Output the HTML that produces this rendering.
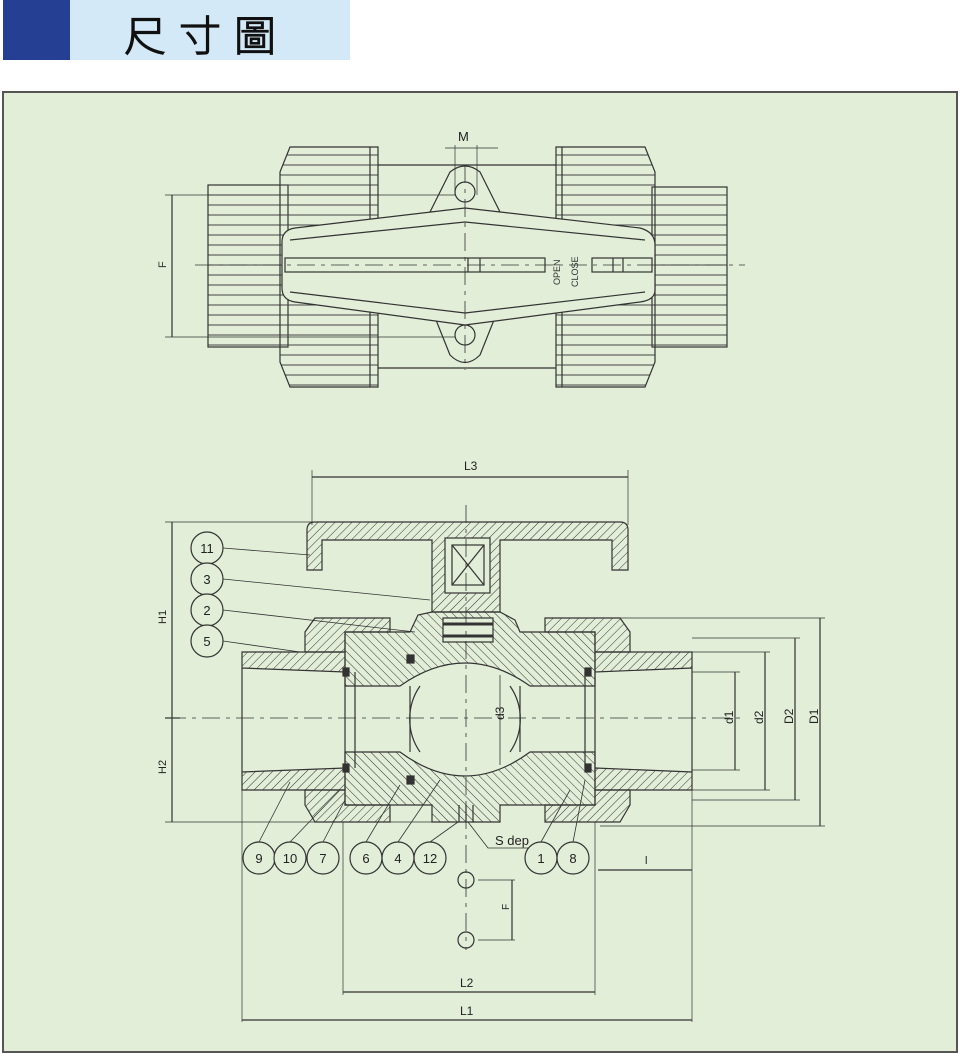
<!DOCTYPE html>
<html><head><meta charset="utf-8"><style>
body{margin:0;width:960px;height:1052px;background:#fff;position:relative;overflow:hidden;font-family:"Liberation Sans",sans-serif}
#b1{position:absolute;left:3px;top:0;width:67px;height:60px;background:#253f93}
#b2{position:absolute;left:70px;top:0;width:280px;height:60px;background:#d3e9f7}
#t{position:absolute;left:124px;top:3px;font-size:42px;letter-spacing:13px;color:#111;-webkit-text-stroke:1.2px #111;font-family:"Liberation Sans","Noto Sans CJK TC",sans-serif;font-weight:300}
#p{position:absolute;left:2px;top:91px;width:952px;height:958px;background:#e2eed8;border:2px solid #555}
svg{position:absolute;left:0;top:0}
</style></head><body>
<div id="b1"></div><div id="b2"></div><div id="t">尺寸圖</div>
<div id="p"></div>
<svg width="960" height="1052" viewBox="0 0 960 1052" font-family="Liberation Sans,sans-serif" fill="none" stroke="#333" stroke-width="1.2">
<defs>
<pattern id="h" width="6" height="6" patternUnits="userSpaceOnUse" patternTransform="rotate(45)"><line x1="0" y1="0" x2="0" y2="6" stroke="#333" stroke-width="1"/></pattern>
<pattern id="h2" width="6" height="6" patternUnits="userSpaceOnUse" patternTransform="rotate(-45)"><line x1="0" y1="0" x2="0" y2="6" stroke="#333" stroke-width="1"/></pattern>
<pattern id="s" width="10" height="10" patternUnits="userSpaceOnUse"><line x1="0" y1="5" x2="10" y2="5" stroke="#444" stroke-width="1"/></pattern>
</defs>
<!-- TOP VIEW -->
<rect x="208" y="185" width="80" height="162" fill="url(#s)"/>
<rect x="652" y="187" width="75" height="160" fill="url(#s)"/>
<polygon points="290,147 378,147 378,387 290,387 280,362 280,172" fill="url(#s)"/>
<polygon points="556,147 645,147 655,172 655,362 645,387 556,387" fill="url(#s)"/>
<line x1="370" y1="147" x2="370" y2="387"/><line x1="562" y1="147" x2="562" y2="387"/>
<line x1="378" y1="165" x2="556" y2="165"/><line x1="378" y1="368" x2="556" y2="368"/>
<path d="M430,212 L450,172 Q465,160 480,172 L500,212 Z" fill="#e2eed8"/>
<path d="M430,305 L450,355 Q465,370 480,355 L500,305 Z" fill="#e2eed8"/>
<circle cx="465" cy="192" r="10"/><circle cx="465" cy="335" r="10"/>
<path d="M295,228 L465,208 L640,228 Q655,232 655,245 L655,290 Q655,300 640,302 L465,325 L295,302 Q282,300 282,288 L282,242 Q282,230 295,228 Z" fill="#e2eed8"/>
<path d="M290,240 L465,222 L645,240 M290,292 L465,313 L645,292"/>
<rect x="285" y="258" width="260" height="14"/><line x1="468" y1="258" x2="468" y2="272"/><line x1="480" y1="258" x2="480" y2="272"/>
<rect x="592" y="258" width="60" height="14"/><line x1="613" y1="258" x2="613" y2="272"/><line x1="623" y1="258" x2="623" y2="272"/>
<line x1="195" y1="265" x2="745" y2="265" stroke-dasharray="18,6,4,6" stroke-width="0.8"/>
<line x1="465" y1="165" x2="465" y2="370" stroke-dasharray="18,6,4,6" stroke-width="0.8"/>
<text x="560" y="285" font-size="9" fill="#333" stroke="none" transform="rotate(-90 560 285)">OPEN</text>
<text x="578" y="287" font-size="9" fill="#333" stroke="none" transform="rotate(-90 578 287)">CLOSE</text>
<line x1="172" y1="195" x2="172" y2="337"/><line x1="165" y1="195" x2="455" y2="195" stroke-width="0.7"/><line x1="165" y1="337" x2="455" y2="337" stroke-width="0.7"/>
<text x="162" y="272" font-size="11" fill="#333" stroke="none" transform="rotate(-90 162 268)">F</text>
<line x1="455" y1="145" x2="455" y2="195" stroke-width="0.7"/><line x1="477" y1="145" x2="477" y2="195" stroke-width="0.7"/><line x1="445" y1="148" x2="498" y2="148" stroke-width="0.7"/>
<text x="458" y="141" font-size="13" fill="#222" stroke="none">M</text>
<!-- BOTTOM VIEW -->
<line x1="312" y1="477" x2="628" y2="477"/><line x1="312" y1="470" x2="312" y2="525" stroke-width="0.7"/><line x1="628" y1="470" x2="628" y2="525" stroke-width="0.7"/>
<text x="464" y="470" font-size="12" fill="#222" stroke="none">L3</text>
<!-- handle -->
<path d="M307,530 Q307,522 315,522 L620,522 Q628,522 628,530 L628,570 L612,570 L612,540 L500,540 L500,612 L432,612 L432,540 L322,540 L322,570 L307,570 Z" fill="url(#h)"/>
<rect x="445" y="538" width="45" height="55" fill="#e2eed8"/><rect x="452" y="545" width="32" height="40"/><path d="M452,545 L484,585 M484,545 L452,585"/>
<!-- stem housing & body -->
<path d="M345,632 L410,632 L418,615 L432,612 L500,612 L515,620 L520,632 L595,632 L595,686 L530,686 Q465,640 400,686 L345,686 Z" fill="url(#h2)"/>
<rect x="443" y="618" width="50" height="24" fill="#e2eed8"/><line x1="443" y1="624" x2="493" y2="624" stroke-width="3"/><line x1="443" y1="636" x2="493" y2="636" stroke-width="3"/>
<path d="M345,752 L400,752 Q465,800 530,752 L595,752 L595,805 L500,805 L500,822 L432,822 L432,805 L345,805 Z" fill="url(#h2)"/>
<path d="M459,805 L459,822 M466,805 L466,822 M473,805 L473,822"/>
<!-- union nuts -->
<path d="M315,618 L390,618 L390,632 L345,632 L345,652 L305,652 L305,632 Z" fill="url(#h)"/>
<path d="M305,790 L345,790 L345,805 L390,805 L390,822 L315,822 L305,805 Z" fill="url(#h)"/>
<path d="M545,618 L620,618 L630,632 L630,652 L595,652 L595,632 L545,632 Z" fill="url(#h)"/>
<path d="M595,790 L630,790 L630,805 L620,822 L545,822 L545,805 L595,805 Z" fill="url(#h)"/>
<!-- pipes -->
<path d="M242,652 L345,652 L345,672 L242,668 Z" fill="url(#h)"/><path d="M242,772 L345,768 L345,790 L242,790 Z" fill="url(#h)"/>
<path d="M595,652 L692,652 L692,668 L595,672 Z" fill="url(#h)"/><path d="M595,768 L692,772 L692,790 L595,790 Z" fill="url(#h)"/>
<line x1="242" y1="668" x2="242" y2="772"/><line x1="692" y1="668" x2="692" y2="772"/>
<line x1="345" y1="672" x2="345" y2="768"/><line x1="355" y1="672" x2="355" y2="768"/><line x1="410" y1="686" x2="410" y2="752"/><line x1="520" y1="686" x2="520" y2="752"/><line x1="585" y1="672" x2="585" y2="768"/><line x1="595" y1="672" x2="595" y2="768"/>
<path d="M420,686 A58,58 0 0 0 420,752 M510,686 A58,58 0 0 1 510,752"/>
<g fill="#333"><rect x="343" y="668" width="6" height="8"/><rect x="343" y="764" width="6" height="8"/><rect x="585" y="668" width="6" height="8"/><rect x="585" y="764" width="6" height="8"/><rect x="407" y="655" width="7" height="8"/><rect x="407" y="776" width="7" height="8"/></g>
<line x1="168" y1="718" x2="745" y2="718" stroke-dasharray="18,6,4,6" stroke-width="0.8"/>
<line x1="466" y1="505" x2="466" y2="950" stroke-dasharray="18,6,4,6" stroke-width="0.8"/>
<line x1="500" y1="675" x2="500" y2="765" stroke-width="0.8"/>
<text x="498" y="726" font-size="12" fill="#222" stroke="none" transform="rotate(-90 498 720)">d3</text>
<!-- H dims -->
<line x1="172" y1="522" x2="172" y2="822"/><line x1="165" y1="522" x2="430" y2="522" stroke-width="0.7"/><line x1="165" y1="822" x2="440" y2="822" stroke-width="0.7"/><line x1="165" y1="718" x2="180" y2="718"/>
<text x="162" y="628" font-size="11" fill="#222" stroke="none" transform="rotate(-90 162 624)">H1</text>
<text x="162" y="778" font-size="11" fill="#222" stroke="none" transform="rotate(-90 162 774)">H2</text>
<!-- right dims -->
<g stroke-width="0.7"><line x1="600" y1="618" x2="825" y2="618"/><line x1="600" y1="826" x2="825" y2="826"/><line x1="692" y1="638" x2="800" y2="638"/><line x1="692" y1="800" x2="800" y2="800"/><line x1="692" y1="652" x2="770" y2="652"/><line x1="692" y1="790" x2="770" y2="790"/><line x1="692" y1="672" x2="740" y2="672"/><line x1="692" y1="770" x2="740" y2="770"/></g>
<line x1="735" y1="672" x2="735" y2="770"/><line x1="765" y1="652" x2="765" y2="790"/><line x1="795" y1="638" x2="795" y2="800"/><line x1="820" y1="618" x2="820" y2="826"/>
<g font-size="12" fill="#222" stroke="none"><text x="727" y="730" transform="rotate(-90 727 724)">d1</text><text x="757" y="730" transform="rotate(-90 757 724)">d2</text><text x="787" y="730" transform="rotate(-90 787 724)">D2</text><text x="812" y="730" transform="rotate(-90 812 724)">D1</text></g>
<!-- leaders -->
<g stroke-width="0.8"><line x1="223" y1="548" x2="310" y2="555"/><line x1="223" y1="579" x2="430" y2="600"/><line x1="223" y1="610" x2="415" y2="632"/><line x1="223" y1="641" x2="300" y2="652"/>
<line x1="259" y1="842" x2="290" y2="782"/><line x1="290" y1="842" x2="340" y2="790"/><line x1="323" y1="842" x2="345" y2="800"/><line x1="366" y1="842" x2="400" y2="785"/><line x1="398" y1="842" x2="440" y2="780"/><line x1="430" y1="842" x2="458" y2="822"/><line x1="541" y1="842" x2="570" y2="790"/><line x1="573" y1="842" x2="585" y2="780"/>
<path d="M468,822 L488,848 L530,848"/></g>
<g fill="#e2eed8"><circle cx="207" cy="548" r="16"/><circle cx="207" cy="579" r="16"/><circle cx="207" cy="610" r="16"/><circle cx="207" cy="641" r="16"/>
<circle cx="259" cy="858" r="16"/><circle cx="290" cy="858" r="16"/><circle cx="323" cy="858" r="16"/><circle cx="366" cy="858" r="16"/><circle cx="398" cy="858" r="16"/><circle cx="430" cy="858" r="16"/><circle cx="541" cy="858" r="16"/><circle cx="573" cy="858" r="16"/></g>
<g font-size="13" fill="#222" stroke="none" text-anchor="middle"><text x="207" y="553">11</text><text x="207" y="584">3</text><text x="207" y="615">2</text><text x="207" y="646">5</text>
<text x="259" y="863">9</text><text x="290" y="863">10</text><text x="323" y="863">7</text><text x="366" y="863">6</text><text x="398" y="863">4</text><text x="430" y="863">12</text><text x="541" y="863">1</text><text x="573" y="863">8</text>
<text x="512" y="845">S dep</text></g>
<!-- bottom dims -->
<circle cx="466" cy="880" r="8"/><circle cx="466" cy="940" r="8"/>
<g stroke-width="0.7"><line x1="478" y1="880" x2="515" y2="880"/><line x1="478" y1="940" x2="515" y2="940"/></g><line x1="512" y1="880" x2="512" y2="940"/>
<text x="505" y="914" font-size="10" fill="#222" stroke="none" transform="rotate(-90 505 910)">F</text>
<line x1="598" y1="870" x2="692" y2="870"/><text x="645" y="864" font-size="11" fill="#222" stroke="none">l</text>
<line x1="343" y1="822" x2="343" y2="995" stroke-width="0.7"/><line x1="595" y1="822" x2="595" y2="995" stroke-width="0.7"/>
<line x1="242" y1="790" x2="242" y2="1022" stroke-width="0.7"/><line x1="692" y1="790" x2="692" y2="1022" stroke-width="0.7"/>
<line x1="343" y1="992" x2="595" y2="992"/><line x1="242" y1="1020" x2="692" y2="1020"/>
<text x="460" y="987" font-size="12" fill="#222" stroke="none">L2</text><text x="460" y="1015" font-size="12" fill="#222" stroke="none">L1</text>
</svg>
</body></html>
